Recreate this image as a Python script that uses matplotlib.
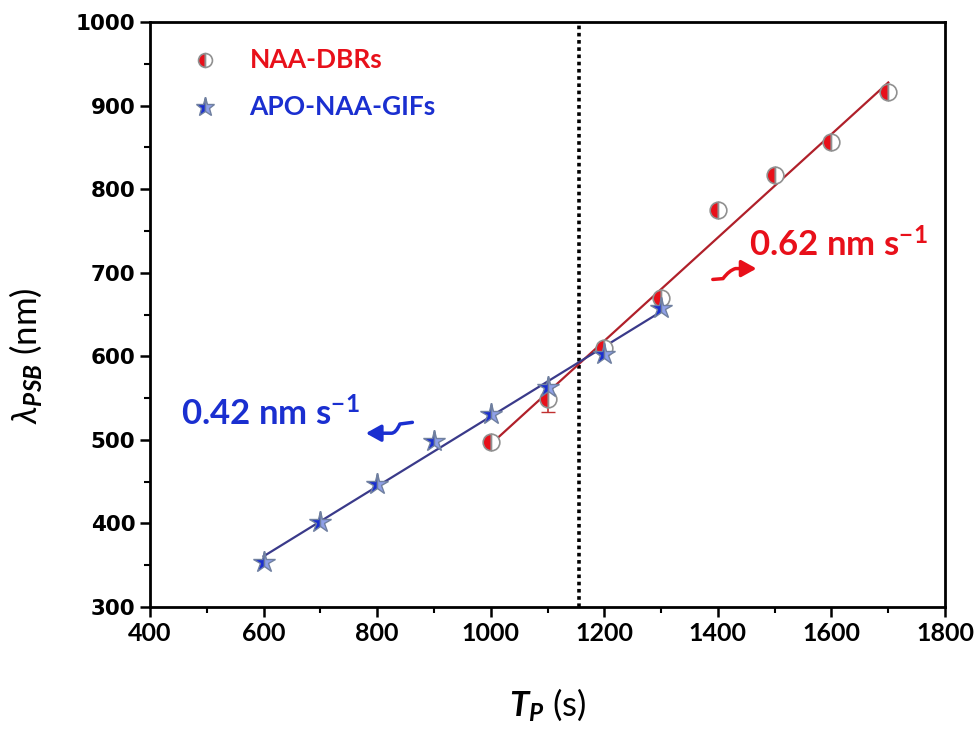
import matplotlib
matplotlib.use("Agg")
import matplotlib.pyplot as plt
import numpy as np
from matplotlib.ticker import MultipleLocator
from matplotlib.patches import FancyArrowPatch
from matplotlib.path import Path

plt.rcParams['mathtext.fontset'] = 'custom'
plt.rcParams['mathtext.rm'] = 'Lato'
plt.rcParams['mathtext.it'] = 'Lato:italic'
plt.rcParams['mathtext.bf'] = 'Lato:bold'
plt.rcParams['mathtext.bfit'] = 'Lato:italic:bold'

# data
tp_dbr = [1000, 1100, 1200, 1300, 1400, 1500, 1600, 1700]
lam_dbr = [497, 549, 610, 670, 775, 817, 856, 916]
err_dbr = [0, 16, 6, 6, 0, 0, 0, 0]

tp_gif = [600, 700, 800, 900, 1000, 1100, 1200, 1300]
lam_gif = [354, 402, 447, 499, 531, 563, 603, 658]

x_cross = 1155

red = '#e8101a'
blue = '#1a2fd0'

fig = plt.figure(figsize=(9.76, 7.35), dpi=100)
ax = fig.add_axes([0.1537, 0.1741, 0.8146, 0.7959])

# linear fits
p_dbr = np.polyfit(tp_dbr, lam_dbr, 1)
p_gif = np.polyfit(tp_gif, lam_gif, 1)
xf = np.array([tp_dbr[0], tp_dbr[-1]])
ax.plot(xf, np.polyval(p_dbr, xf), color='#b0202a', lw=1.6, zorder=2)
xg = np.array([tp_gif[0], tp_gif[-1]])
ax.plot(xg, np.polyval(p_gif, xg), color='#3a3a8a', lw=1.6, zorder=2)

# points
ax.errorbar(tp_dbr, lam_dbr, yerr=err_dbr, fmt='none', ecolor='#c03030',
            elinewidth=1.2, capsize=5, zorder=3)
ax.plot(tp_dbr, lam_dbr, 'o', ms=12, color=red, fillstyle='left',
        markerfacecoloralt='white', markeredgecolor='#909090', mew=1.2,
        linestyle='none', zorder=4)
ax.plot(tp_gif, lam_gif, '*', ms=16, color=blue, fillstyle='left',
        markerfacecoloralt='#8fa0e8', markeredgecolor='#7080a0', mew=1.0,
        linestyle='none', zorder=5)

# vertical dotted line
ax.axvline(x_cross, color='black', ls=(0, (1.0, 1.0)), lw=2.6, zorder=1)

# legend (hand made)
ax.plot([497], [955], 'o', ms=10, color=red, fillstyle='left',
        markerfacecoloralt='white', markeredgecolor='#909090', mew=1.2)
ax.plot([497], [898], '*', ms=14, color=blue, fillstyle='left',
        markerfacecoloralt='#8fa0e8', markeredgecolor='#7080a0', mew=1.0)
ax.text(575, 955, 'NAA-DBRs', color=red, fontsize=19, fontweight='bold',
        family='Lato', va='center')
ax.text(575, 898, 'APO-NAA-GIFs', color=blue, fontsize=19, fontweight='bold',
        family='Lato', va='center')

# slope annotations
ax.text(1455, 733, r'0.62 nm s$^{\mathbf{-1}}$', color=red, fontsize=25,
        fontweight='bold', family='Lato', va='center')
ax.text(455, 531, r'0.42 nm s$^{\mathbf{-1}}$', color=blue, fontsize=25,
        fontweight='bold', family='Lato', va='center')


def squiggle(verts, color):
    codes = [Path.MOVETO, Path.LINETO, Path.CURVE3, Path.CURVE3, Path.LINETO]
    arr = FancyArrowPatch(path=Path(verts, codes),
                          arrowstyle='-|>,head_length=9,head_width=5',
                          color=color, lw=2.5, zorder=6)
    ax.add_patch(arr)


squiggle([(1391, 692), (1409, 693), (1420, 703), (1431, 705), (1468, 705)], red)
squiggle([(862, 521), (840, 519), (833, 508), (825, 508), (780, 508)], blue)

ax.set_xlim(400, 1800)
ax.set_ylim(300, 1000)
ax.xaxis.set_major_locator(MultipleLocator(200))
ax.xaxis.set_minor_locator(MultipleLocator(100))
ax.yaxis.set_major_locator(MultipleLocator(100))
ax.yaxis.set_minor_locator(MultipleLocator(50))
ax.tick_params(which='major', direction='out', length=7, width=1.8)
ax.tick_params(which='minor', direction='out', length=4, width=1.5)
for s in ax.spines.values():
    s.set_linewidth(2)

for lab in ax.get_xticklabels():
    lab.set_fontfamily('Lato')
    lab.set_fontweight('bold')
    lab.set_fontsize(18)
for lab in ax.get_yticklabels():
    lab.set_fontfamily('DejaVu Sans')
    lab.set_fontweight('bold')
    lab.set_fontsize(15.5)

ax.set_ylabel(r'$\lambda_{\mathbfit{PSB}}$ (nm)', fontsize=25,
              family='Lato')
ax.yaxis.set_label_coords(-0.133, 0.43)
ax.set_xlabel(r'$\mathbfit{T}_{\mathbfit{P}}$ (s)', fontsize=25,
              family='Lato', labelpad=30)

fig.savefig('out.png', dpi=100)
